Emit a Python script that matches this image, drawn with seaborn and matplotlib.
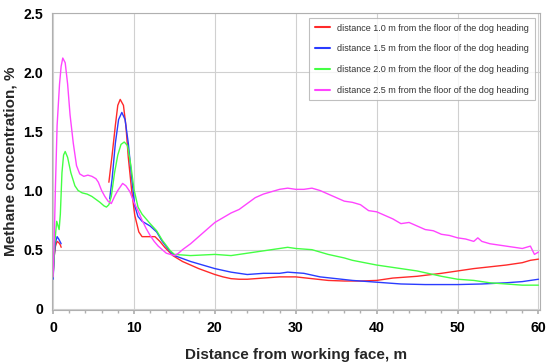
import numpy as np
import pandas as pd
import matplotlib
matplotlib.use("Agg")
import matplotlib.pyplot as plt
import seaborn as sns
from matplotlib.ticker import MultipleLocator, FixedLocator, FixedFormatter

# ---- data ----
labels = ["distance 1.0 m from the floor of the dog heading",
          "distance 1.5 m from the floor of the dog heading",
          "distance 2.0 m from the floor of the dog heading",
          "distance 2.5 m from the floor of the dog heading"]
colors = ["#ff2a2a", "#2a3cff", "#44ff44", "#ff44ff"]

red_x1 = [0, 0.15, 0.3, 0.5, 0.7, 0.9, 1.0]
red_y1 = [0.28, 0.45, 0.53, 0.57, 0.56, 0.54, 0.52]
red_x2 = [6.9, 7.3, 7.7, 8.0, 8.3, 8.7, 9.0, 9.3, 9.7, 10.1, 10.6, 11.0, 11.5, 12.0, 12.6,
          13.2, 13.8, 14.8, 16, 17, 18, 19, 20, 21, 22, 23, 24, 25, 26, 27, 28, 29,
          30, 32, 34, 36, 37, 38, 40, 42, 45, 48, 50, 52, 54, 56, 58, 59, 60]
red_y2 = [1.07, 1.3, 1.55, 1.72, 1.77, 1.72, 1.55, 1.28, 1.01, 0.79, 0.65, 0.61, 0.61, 0.61, 0.61,
          0.57, 0.52, 0.45, 0.40, 0.37, 0.34, 0.315, 0.29, 0.27, 0.255, 0.25, 0.25, 0.255, 0.26, 0.265, 0.27, 0.27,
          0.27, 0.255, 0.24, 0.235, 0.235, 0.235, 0.24, 0.26, 0.275, 0.30, 0.32, 0.34, 0.355, 0.37, 0.39, 0.41, 0.42]

blue_x1 = [0, 0.15, 0.3, 0.5, 0.7, 1.0]
blue_y1 = [0.25, 0.45, 0.56, 0.61, 0.59, 0.55]
blue_x2 = [7.0, 7.3, 7.7, 8.1, 8.5, 8.9, 9.3, 9.7, 10.1, 10.5, 11, 11.5, 12, 12.8, 13.5, 14.4, 15,
           17, 20, 22, 24, 26, 28, 29, 31, 33, 35, 37, 40, 43, 46, 50, 53, 56, 58, 60]
blue_y2 = [0.93, 1.1, 1.4, 1.6, 1.66, 1.6, 1.4, 1.12, 0.87, 0.78, 0.74, 0.72, 0.70, 0.65, 0.57, 0.49, 0.45,
           0.40, 0.34, 0.31, 0.29, 0.30, 0.30, 0.31, 0.30, 0.27, 0.255, 0.24, 0.225, 0.21, 0.205, 0.205, 0.21, 0.22, 0.23, 0.25]

green_x = [0, 0.2, 0.45, 0.75, 0.9, 1.1, 1.3, 1.5, 1.8, 2.2, 2.7, 3.1, 3.6, 4.2, 4.8, 5.2, 5.8, 6.3,
           6.6, 6.9, 7.2, 7.6, 8.0, 8.4, 8.8, 9.2, 9.6, 10.0, 10.5, 11, 11.5, 12, 12.8, 13.5, 14.5, 15,
           17, 20, 22, 25, 27, 29, 30, 32, 34, 36, 37, 40, 42, 45, 48, 50, 52, 54, 56, 58, 60]
green_y = [0.27, 0.55, 0.74, 0.67, 0.8, 1.15, 1.3, 1.33, 1.28, 1.15, 1.04, 1.0, 0.98, 0.97, 0.95, 0.93, 0.9, 0.87,
           0.86, 0.88, 0.95, 1.15, 1.3, 1.39, 1.41, 1.38, 1.22, 1.01, 0.86, 0.8, 0.76, 0.72, 0.66, 0.58, 0.49, 0.46,
           0.45, 0.46, 0.45, 0.48, 0.50, 0.52, 0.51, 0.50, 0.46, 0.43, 0.41, 0.37, 0.35, 0.32, 0.275, 0.25, 0.24, 0.22, 0.21, 0.20, 0.20]

mag_x = [0, 0.15, 0.3, 0.5, 0.8, 1.0, 1.2, 1.5, 1.8, 2.1, 2.5, 2.9, 3.3, 3.8, 4.3, 4.8, 5.3, 5.6, 6.0,
         6.4, 6.8, 7.2, 7.6, 8.0, 8.6, 9.0, 9.5, 10.0, 10.5, 11, 11.5, 12, 12.5, 13, 13.5, 14, 14.5, 15,
         15.5, 16, 17, 18, 19, 20, 21, 22, 23, 24, 25, 26, 27, 28, 29, 30, 31, 32, 33, 34, 35, 36, 37,
         38, 39, 40, 41, 42, 43, 44, 45, 46, 47, 48, 49, 50, 51, 52, 52.5, 53, 54, 55, 56, 57, 58, 59, 59.5, 60]
mag_y = [0.27, 0.6, 1.05, 1.55, 1.9, 2.05, 2.12, 2.08, 1.9, 1.64, 1.4, 1.21, 1.14, 1.12, 1.13, 1.12, 1.10, 1.07, 1.0,
         0.95, 0.91, 0.89, 0.95, 1.0, 1.06, 1.04, 0.99, 0.9, 0.83, 0.75, 0.68, 0.62, 0.57, 0.53, 0.50, 0.47, 0.46, 0.45,
         0.47, 0.50, 0.55, 0.61, 0.67, 0.73, 0.77, 0.81, 0.84, 0.89, 0.94, 0.97, 0.99, 1.01, 1.02, 1.01, 1.01, 1.02, 1.0, 0.97, 0.94, 0.91, 0.90,
         0.88, 0.83, 0.82, 0.79, 0.76, 0.72, 0.73, 0.70, 0.67, 0.66, 0.63, 0.62, 0.60, 0.59, 0.57, 0.60, 0.57, 0.55, 0.54, 0.53, 0.52, 0.51, 0.53, 0.46, 0.48]

y_ticks = [0, 0.5, 1.0, 1.5, 2.0, 2.5]
y_tick_labels = ["0", "0.5", "1.0", "1.5", "2.0", "2.5"]
x_ticks = [0, 10, 20, 30, 40, 50, 60]

# ---- build long table ----
frames = []
def add(xs, ys, series, seg):
    frames.append(pd.DataFrame({"x": xs, "y": ys, "series": series, "seg": seg}))
add(red_x1, red_y1, labels[0], "a")
add(red_x2, red_y2, labels[0], "b")
add(blue_x1, blue_y1, labels[1], "a")
add(blue_x2, blue_y2, labels[1], "b")
add(green_x, green_y, labels[2], "a")
add(mag_x, mag_y, labels[3], "a")
df = pd.concat(frames, ignore_index=True)

sns.set_theme(style="white")
plt.rcParams["font.family"] = ["Liberation Sans", "DejaVu Sans"]

fig = plt.figure(figsize=(5.5, 3.63), dpi=100)
ax = fig.add_axes([0.095, 0.146, 0.887, 0.818])

sns.lineplot(data=df, x="x", y="y", hue="series", units="seg", estimator=None,
             hue_order=labels, palette=dict(zip(labels, colors)), linewidth=1.0,
             sort=False, ax=ax)

ax.set_xlim(-0.1, 60.2)
ax.set_ylim(-0.01, 2.5)
ax.xaxis.set_major_locator(FixedLocator(x_ticks))
ax.xaxis.set_minor_locator(MultipleLocator(2))
ax.yaxis.set_major_locator(FixedLocator(y_ticks))
ax.yaxis.set_major_formatter(FixedFormatter(y_tick_labels))
ax.grid(True, which="major", color="#d0d0d0", linewidth=0.8)
for s in ax.spines.values():
    s.set_color("#b0b0b0")
    s.set_linewidth(0.8)
ax.tick_params(axis="both", which="major", labelsize=10.2, colors="#b0b0b0",
               labelcolor="black", length=3, direction="out", bottom=True, left=False)
ax.tick_params(axis="y", which="major", pad=3.5)
ax.tick_params(axis="x", which="major", pad=5)
ax.tick_params(axis="x", which="minor", length=2, colors="#b0b0b0", bottom=True)
for t in ax.get_xticklabels() + ax.get_yticklabels():
    t.set_fontweight("bold")

ax.set_xlabel("Distance from working face, m", fontsize=11, fontweight="bold", labelpad=9)
ax.set_ylabel("Methane concentration, %", fontsize=11, fontweight="bold")
ax.yaxis.set_label_coords(-0.072, 0.5)

leg = ax.legend(loc="upper right", bbox_to_anchor=(0.998, 0.998), fontsize=6.5,
                frameon=True, fancybox=False, edgecolor="#b0b0b0", labelspacing=1.3,
                handlelength=1.7, borderpad=0.6, handletextpad=0.8)
leg.get_frame().set_linewidth(0.8)
for t in leg.get_texts():
    t.set_color("#333333")
for h in leg.get_lines():
    h.set_linewidth(1.5)

fig.savefig("out.png", dpi=100)
